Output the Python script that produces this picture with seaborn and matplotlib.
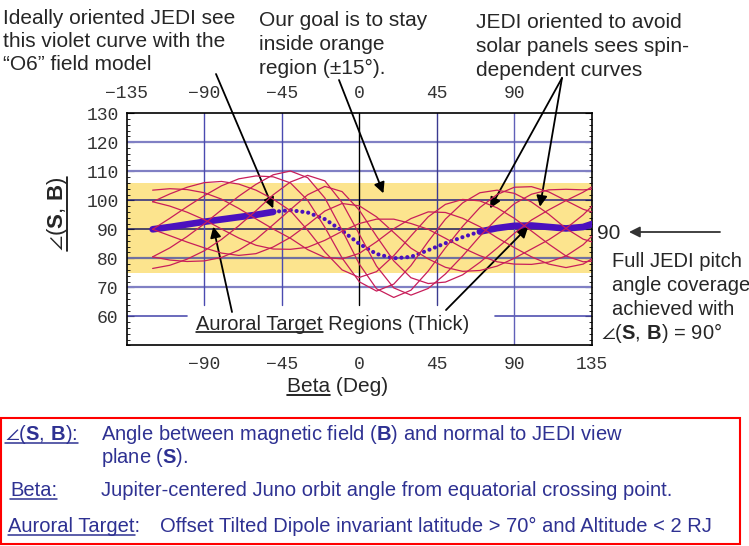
import numpy as np
import pandas as pd
import matplotlib
matplotlib.use("Agg")
import matplotlib.pyplot as plt
import seaborn as sns
from matplotlib.lines import Line2D
from matplotlib.patches import Rectangle
from matplotlib.ticker import MultipleLocator

# Style and fonts (set after seaborn so they stick)
sns.set_style("white")
plt.rcParams["font.family"] = ["Liberation Sans", "DejaVu Sans"]
plt.rcParams["mathtext.fontset"] = "custom"
plt.rcParams["mathtext.rm"] = "Liberation Sans"
plt.rcParams["mathtext.bf"] = "Liberation Sans:bold"
plt.rcParams["mathtext.it"] = "Liberation Sans:italic"
plt.rcParams["mathtext.fallback"] = "stixsans"

W, H = 749, 546

# Data
beta = [-120, -110, -100, -90, -80, -70, -60, -50, -40, -30, -20, -10, 0,
        10, 20, 30, 40, 50, 60, 70, 80, 90, 100, 110, 120, 130, 135]

# ideally oriented JEDI, "O6" field model (violet)
violet = [90.0, 90.8, 91.7, 92.6, 93.4, 94.2, 95.0, 96.0, 96.6, 95.8, 93.5, 89.5, 85.0,
          81.5, 80.0, 80.5, 82.8, 85.2, 87.3, 89.2, 90.4, 91.2, 91.3, 90.8, 90.3, 90.8, 91.8]

# spin-dependent curves (red)
spin_0 = [103.5, 104.0, 103.7, 102.6, 100.4, 97.2, 93.6, 90.1, 86.9, 83.0, 80.3, 79.8, 81.7,
          85.7, 90.2, 93.7, 96.0, 95.8, 93.8, 90.9, 87.1, 83.7, 80.5, 78.0, 76.8, 78.0, 79.8]
spin_45 = [99.5, 98.0, 95.9, 93.3, 90.1, 87.0, 84.5, 83.2, 83.1, 83.8, 86.2, 89.3, 92.0,
           93.5, 93.5, 92.0, 90.0, 86.9, 83.6, 80.9, 78.8, 78.0, 77.9, 78.7, 80.8, 84.7, 87.6]
spin_90 = [90.0, 87.8, 85.6, 83.6, 81.8, 81.0, 81.6, 83.9, 87.2, 91.6, 96.3, 98.9, 98.1,
           94.3, 88.9, 83.5, 79.8, 76.9, 75.5, 75.8, 77.3, 80.0, 83.2, 86.4, 90.3, 95.0, 97.9]
spin_135 = [80.5, 79.4, 78.9, 79.1, 80.3, 82.8, 86.5, 91.6, 96.8, 101.9, 104.8, 103.0, 96.6,
            87.6, 79.1, 73.3, 71.3, 71.8, 74.3, 78.6, 83.5, 88.6, 93.2, 96.7, 99.9, 102.8, 104.6]
spin_180 = [76.5, 77.6, 79.7, 82.6, 86.5, 91.2, 96.4, 101.9, 106.3, 108.6, 106.7, 99.2, 88.3,
            77.3, 69.8, 67.3, 69.6, 74.6, 80.8, 87.6, 93.7, 98.8, 102.1, 103.6, 103.8, 103.6, 103.8]
spin_225 = [80.5, 83.6, 87.5, 91.9, 96.7, 101.4, 105.5, 108.8, 110.1, 107.8, 100.8, 89.7, 78.0,
            69.5, 66.5, 69.0, 75.6, 83.6, 91.0, 97.5, 102.0, 104.5, 104.7, 102.9, 99.9, 96.9, 96.0]
spin_270 = [90.0, 93.8, 97.8, 101.6, 105.0, 107.4, 108.4, 108.1, 106.0, 100.0, 90.7, 80.1, 71.9,
            68.7, 71.1, 77.5, 85.8, 93.5, 99.1, 102.6, 103.5, 102.4, 99.4, 95.2, 90.3, 86.6, 85.7]
spin_315 = [99.5, 102.2, 104.5, 106.1, 106.5, 105.6, 103.5, 100.4, 96.4, 89.7, 82.2, 76.0, 73.4,
            75.4, 80.9, 87.7, 94.3, 98.6, 100.3, 99.8, 97.4, 93.8, 89.4, 84.9, 80.8, 78.8, 79.0]

spin_names = ["0", "45", "90", "135", "180", "225", "270", "315"]
spin_curves = [spin_0, spin_45, spin_90, spin_135, spin_180, spin_225, spin_270, spin_315]

band = (75, 106)              # orange goal region (about 90 +/- 15)
auroral_left_end = -50         # thick violet (auroral target) up to here
auroral_right_start = 70       # and from here on

red_c = "#C81E5A"
violet_c = "#4B10BE"
yellow_c = "#FCE48E"
navy_text = "#2E3192"

df = pd.DataFrame({
    "beta": beta * len(spin_curves),
    "angle": [v for c in spin_curves for v in c],
    "curve": [n for n in spin_names for _ in beta],
})
vdf = pd.DataFrame({"beta": beta, "angle": violet})
left = vdf[vdf["beta"] <= auroral_left_end]
mid = vdf[(vdf["beta"] >= auroral_left_end) & (vdf["beta"] <= auroral_right_start)]
right = vdf[vdf["beta"] >= auroral_right_start]

fig = plt.figure(figsize=(W / 100, H / 100), dpi=100)
ax = fig.add_axes([126.8 / W, 1 - 345.3 / H, 465 / W, 232 / H])
ax.set_xlim(-135, 135)
ax.set_ylim(50, 130)

# orange goal region
ax.axhspan(band[0], band[1], color=yellow_c, lw=0, zorder=0)

# grid lines
hstyle = {120: ("#8080C4", 1.6), 110: ("#8080C4", 1.6), 100: ("#26267E", 1.1),
          90: ("#1C1C5C", 1.1), 80: ("#7070A0", 1.6), 70: ("#8080C4", 1.6)}
for yv, (c, w) in hstyle.items():
    ax.axhline(yv, color=c, lw=w, zorder=1)
ax.axhline(60, xmin=0, xmax=(-100 + 135) / 270, color="#5050B0", lw=1.2, zorder=1)
ax.axhline(60, xmin=(79 + 135) / 270, xmax=1, color="#5050B0", lw=1.2, zorder=1)
for xv, c in [(-90, "#4A4AB0"), (-45, "#4A4AB0"), (0, "black"), (45, "#3A3A90")]:
    ax.axvline(xv, ymin=(64 - 50) / 80, ymax=1, color=c, lw=1.0, zorder=1)
ax.axvline(90, color="#6060B8", lw=1.0, zorder=1)

# violet curve: thick in auroral target regions, dotted elsewhere
sns.lineplot(data=left, x="beta", y="angle", color=violet_c, lw=4.8,
             solid_capstyle="round", ax=ax, zorder=3)
sns.lineplot(data=right, x="beta", y="angle", color=violet_c, lw=4.8,
             solid_capstyle="round", ax=ax, zorder=3)
ax.plot(mid["beta"], mid["angle"], color=violet_c, lw=3.0,
        linestyle=(0, (0.01, 1.4)), dash_capstyle="round", zorder=3)

# spin-dependent curves
sns.lineplot(data=df, x="beta", y="angle", units="curve", estimator=None,
             color=red_c, lw=0.9, ax=ax, zorder=4)

ax.set_xlabel("")
ax.set_ylabel("")
ax.set_xticks(range(-135, 136, 45))
ax.set_yticks(range(60, 131, 10))
ax.yaxis.set_minor_locator(MultipleLocator(2))
ax.tick_params(axis="both", which="both", direction="in", labelfontfamily="Liberation Mono",
               labelsize=13, labelcolor="#333333", color="black")
ax.tick_params(axis="y", which="major", left=True, right=True, length=5, pad=6)
ax.tick_params(axis="y", which="minor", left=True, right=True, length=2.5)
ax.tick_params(axis="x", bottom=True, top=True, labeltop=True, length=0, pad=8)
xt = ax.xaxis.get_major_ticks()
xt[0].label1.set_visible(False)
xt[-1].label2.set_visible(False)
for s in ax.spines.values():
    s.set_visible(True)
    s.set_color("black")
    s.set_linewidth(1.2)


def ftext(px, py, s, **kw):
    kw.setdefault("va", "baseline")
    return fig.text(px / W, 1 - py / H, s, **kw)


renderer = fig.canvas.get_renderer()
inv = fig.transFigure.inverted()


def underline(t, sub=None, gap=2.0, lw=1.1, color="black"):
    # line under the whole text, or under its leading part `sub`
    ref = t
    if sub is not None:
        ref = fig.text(*t.get_position(), sub, fontsize=t.get_fontsize(), va="baseline")
    bb = ref.get_window_extent(renderer)
    if ref is not t:
        ref.remove()
    x0, y0 = t.get_transform().transform(t.get_position())
    y = y0 - gap
    (a, b), (c, d) = inv.transform([(bb.x0, y), (bb.x1, y)])
    fig.add_artist(Line2D([a, c], [b, d], color=color, lw=lw))


# axis labels
ylab = fig.text(63.5 / W, 1 - 214 / H, r"$\angle(\mathbf{S},\,\mathbf{B})$", rotation=90,
                ha="center", va="baseline", rotation_mode="anchor", fontsize=16)
bb = ylab.get_window_extent(renderer)
(a, b), (c, d) = inv.transform([(66.5, bb.y0), (66.5, bb.y1)])
fig.add_artist(Line2D([a, c], [b, d], color="black", lw=1.2))

xlab = ftext(287, 392, "Beta (Deg)", fontsize=15)
underline(xlab, "Beta", gap=2.5, lw=1.2)

# top annotations
blocks = [
    (3, [24, 47, 70], ["Ideally oriented JEDI see", "this violet curve with the",
                       "\u201cO6\u201d field model"]),
    (259, [26, 50, 74], ["Our goal is to stay", "inside orange", "region (\u00b115\u00b0)."]),
    (476, [28, 52, 76], ["JEDI oriented to avoid", "solar panels sees spin-",
                         "dependent curves"]),
]
for x0, ys, lines in blocks:
    for yy, s in zip(ys, lines):
        ftext(x0, yy, s, fontsize=15)

aur = ftext(196, 330, "Auroral Target Regions (Thick)", fontsize=14.5)
underline(aur, "Auroral Target", gap=2.0, lw=1.1)

# right side note
ftext(597, 239, "90", fontsize=15)
for yy, s in zip([267, 291, 315], ["Full JEDI pitch", "angle coverage", "achieved with"]):
    ftext(612, yy, s, fontsize=14.5)
ftext(601, 339, r"$\angle(\mathbf{S},\,\mathbf{B})$ = 90" + "\u00b0", fontsize=14.5)

# arrows
arrow = dict(arrowstyle="-|>", color="black", lw=1.3, mutation_scale=16,
             shrinkA=0, shrinkB=0)
for tail, tip in [((216, 74), (-50, 97.2)), ((339, 80), (14, 102.4)),
                  ((562, 78), (75.9, 97.2)), ((562, 78), (104.9, 97.8)),
                  ((232, 312), (-84.8, 90.9)), ((446, 310), (98.1, 90.9))]:
    ax.annotate("", xy=tip, xycoords="data", xytext=(tail[0] / W, 1 - tail[1] / H),
                textcoords="figure fraction", arrowprops=arrow, annotation_clip=False)
ax.annotate("", xy=(629 / W, 1 - 232 / H), xycoords="figure fraction",
            xytext=(720 / W, 1 - 232 / H), textcoords="figure fraction",
            arrowprops=dict(arrowstyle="-|>", color="#333333", lw=1.3, mutation_scale=16,
                            shrinkA=0, shrinkB=0))

# definitions box
fig.add_artist(Rectangle((1 / W, 1 - 544 / H), 739 / W, 126 / H, transform=fig.transFigure,
                         fill=False, edgecolor="red", lw=1.5))
fs = 14.5
t = ftext(5, 440, r"$\angle(\mathbf{S},\,\mathbf{B})$:", fontsize=fs, color=navy_text)
underline(t, gap=2.5, color=navy_text)
ftext(101, 440, r"Angle between magnetic field ($\mathbf{B}$) and normal to JEDI view",
      fontsize=fs, color=navy_text)
ftext(101, 463, r"plane ($\mathbf{S}$).", fontsize=fs, color=navy_text)
t = ftext(10, 496, "Beta:", fontsize=fs, color=navy_text)
underline(t, gap=2.5, color=navy_text)
ftext(101, 496, "Jupiter-centered Juno orbit angle from equatorial crossing point.",
      fontsize=fs, color=navy_text)
t = ftext(8, 532, "Auroral Target:", fontsize=fs, color=navy_text)
underline(t, "Auroral Target", gap=2.5, color=navy_text)
ftext(160, 532, "Offset Tilted Dipole invariant latitude > 70\u00b0 and Altitude < 2 RJ",
      fontsize=fs, color=navy_text)

fig.savefig("out.png", dpi=100)
